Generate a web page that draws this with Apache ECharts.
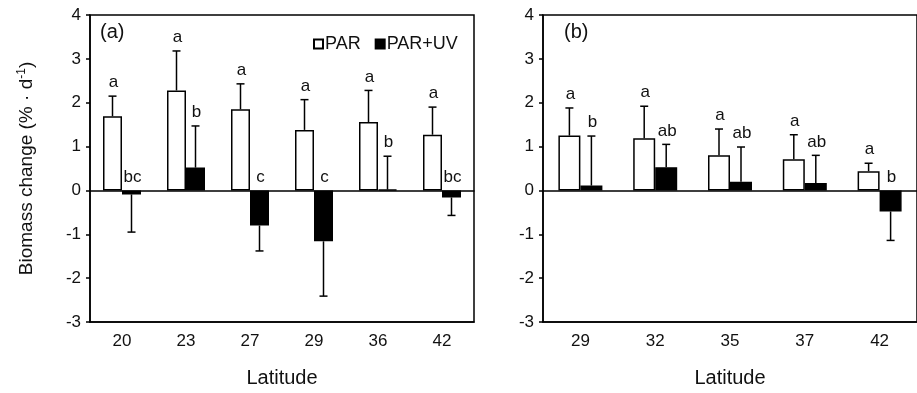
<!DOCTYPE html>
<html>
<head>
<meta charset="utf-8">
<script src="https://cdn.jsdelivr.net/npm/echarts@6/dist/echarts.min.js"></script>
<style>
  html, body { margin: 0; padding: 0; background: #fff; }
  #chart { width: 917px; height: 393px; }
</style>
</head>
<body>
<div id="chart"></div>
<script>
// panel (a)
const latA = ['20', '23', '27', '29', '36', '42']
const parMeanA = [1.69, 2.28, 1.85, 1.38, 1.56, 1.27]
const parSdA = [0.46, 0.90, 0.58, 0.69, 0.72, 0.63]
const uvMeanA = [-0.09, 0.52, -0.80, -1.16, 0.02, -0.16]
const uvSdA = [0.86, 0.95, 0.58, 1.25, 0.76, 0.41]
const parLetA = ['a', 'a', 'a', 'a', 'a', 'a']
const uvLetA = ['bc', 'b', 'c', 'c', 'b', 'bc']

// panel (b)
const latB = ['29', '32', '35', '37', '42']
const parMeanB = [1.25, 1.19, 0.80, 0.71, 0.44]
const parSdB = [0.63, 0.73, 0.60, 0.56, 0.18]
const uvMeanB = [0.11, 0.53, 0.20, 0.17, -0.48]
const uvSdB = [1.13, 0.52, 0.79, 0.63, 0.66]
const parLetB = ['a', 'a', 'a', 'a', 'a']
const uvLetB = ['b', 'ab', 'ab', 'ab', 'b']

const yTicks = [-3, -2, -1, 0, 1, 2, 3, 4]

const FONT = 'Liberation Sans, Arial, sans-serif'
const INK = '#111'

const chart = echarts.init(document.getElementById('chart'))

// error bar (cap at the end only) plus the significance letter above it
function errSeries(name, gridIdx, means, sds, letters, barW, side) {
  return {
    type: 'custom',
    name: name + '-err',
    xAxisIndex: gridIdx * 2,
    yAxisIndex: gridIdx,
    silent: true,
    z: 5,
    data: means.map((m, i) => [i, m, sds[i]]),
    renderItem(params, api) {
      const i = api.value(0)
      const mean = api.value(1)
      const sd = api.value(2)
      const zero = api.coord([i, 0])
      const x = zero[0] + side * barW / 2
      const end = mean >= 0 ? mean + sd : mean - sd
      const y0 = api.coord([i, mean])[1]
      const y1 = api.coord([i, end])[1]
      const anchor = mean >= 0 ? y1 : zero[1]
      const ls = { stroke: '#000', lineWidth: 1.5 }
      return {
        type: 'group',
        children: [
          { type: 'line', shape: { x1: x, y1: y0, x2: x, y2: y1 }, style: ls },
          { type: 'line', shape: { x1: x - 4, y1: y1, x2: x + 4, y2: y1 }, style: ls },
          {
            type: 'text',
            style: {
              text: letters[params.dataIndex],
              x: x + 1, y: anchor - 5,
              align: 'center', verticalAlign: 'bottom',
              font: '17px ' + FONT, fill: INK
            }
          }
        ]
      }
    }
  }
}

function barSeries(name, gridIdx, means, barW, fill) {
  return {
    type: 'bar',
    name,
    xAxisIndex: gridIdx * 2,
    yAxisIndex: gridIdx,
    data: means,
    barWidth: barW,
    barGap: '0%',
    itemStyle: { color: fill, borderColor: '#000', borderWidth: 1.5 }
  }
}

function xAxes(gridIdx, cats) {
  return [
    {
      type: 'category', gridIndex: gridIdx, data: cats, position: 'bottom',
      name: 'Latitude', nameLocation: 'middle', nameGap: 46,
      nameTextStyle: { fontFamily: FONT, fontSize: 20, color: INK },
      axisLine: { onZero: false, lineStyle: { color: '#000', width: 1.5 } },
      axisTick: { length: 6, lineStyle: { color: '#000', width: 1.5 } },
      axisLabel: { fontFamily: FONT, fontSize: 17, color: INK, margin: 11 }
    },
    {
      type: 'category', gridIndex: gridIdx, data: cats, position: 'bottom',
      axisLine: { onZero: true, lineStyle: { color: '#000', width: 1.5 } },
      axisTick: { length: 5, lineStyle: { color: '#000', width: 1.5 } },
      axisLabel: { show: false }
    }
  ]
}

function yAxis(gridIdx, withName) {
  return {
    type: 'value', gridIndex: gridIdx,
    min: yTicks[0], max: yTicks[yTicks.length - 1], interval: 1,
    splitLine: { show: false },
    axisLine: { show: true, lineStyle: { color: '#000', width: 1.5 } },
    axisTick: { show: true, length: 4, lineStyle: { color: '#000', width: 1.5 } },
    axisLabel: { fontFamily: FONT, fontSize: 17, color: INK, margin: 9 },
    name: withName ? '{n|Biomass change (% · d}{s|-1}{n|)}' : '',
    nameLocation: 'middle',
    nameGap: 52,
    nameTextStyle: {
      rich: {
        n: { fontFamily: FONT, fontSize: 19, color: INK, lineHeight: 22 },
        s: { fontFamily: FONT, fontSize: 12, color: INK, verticalAlign: 'top', lineHeight: 22 }
      }
    }
  }
}

chart.setOption({
  backgroundColor: '#fff',
  animation: false,
  textStyle: { fontFamily: FONT },
  grid: [
    { left: 90, top: 15, width: 384, height: 307, show: true, borderColor: '#000', borderWidth: 1.5, backgroundColor: 'transparent' },
    { left: 543, top: 15, width: 390, height: 308, show: true, borderColor: '#000', borderWidth: 1.5, backgroundColor: 'transparent' }
  ],
  legend: {
    data: ['PAR', 'PAR+UV'],
    left: 308, top: 30,
    itemWidth: 9, itemHeight: 9, itemGap: 14,
    icon: 'rect',
    textStyle: { fontFamily: FONT, fontSize: 18, color: INK, padding: [0, 0, 0, -3] },
    selectedMode: false
  },
  graphic: [
    { type: 'text', left: 100, top: 22, style: { text: '(a)', font: '20px ' + FONT, fill: INK } },
    { type: 'text', left: 564, top: 22, style: { text: '(b)', font: '20px ' + FONT, fill: INK } }
  ],
  xAxis: [...xAxes(0, latA), ...xAxes(1, latB)],
  yAxis: [yAxis(0, true), yAxis(1, false)],
  series: [
    barSeries('PAR', 0, parMeanA, 19, '#fff'),
    barSeries('PAR+UV', 0, uvMeanA, 19, '#000'),
    errSeries('PAR', 0, parMeanA, parSdA, parLetA, 19, -1),
    errSeries('PAR+UV', 0, uvMeanA, uvSdA, uvLetA, 19, 1),
    barSeries('PAR', 1, parMeanB, 22, '#fff'),
    barSeries('PAR+UV', 1, uvMeanB, 22, '#000'),
    errSeries('PAR', 1, parMeanB, parSdB, parLetB, 22, -1),
    errSeries('PAR+UV', 1, uvMeanB, uvSdB, uvLetB, 22, 1)
  ]
})
</script>
</body>
</html>
